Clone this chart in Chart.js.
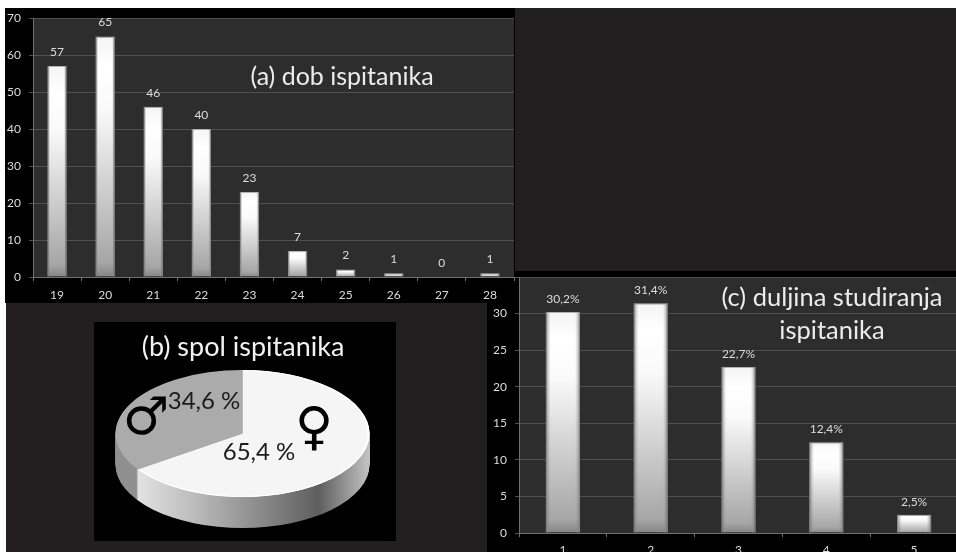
<!DOCTYPE html>
<html>
<head>
<meta charset="utf-8">
<script src="https://cdn.jsdelivr.net/npm/chart.js@4"></script>
<style>
html, body { margin: 0; padding: 0; background: #fff; overflow: hidden; }
#page { position: relative; width: 956px; height: 552px; overflow: hidden; background: #fff; }
#body { position: absolute; left: 6px; top: 8px; width: 950px; height: 544px; background: #231f20; }
canvas { position: absolute; display: block; }
#chartA { left: 5px; top: 8px; z-index: 3; }
#chartB { left: 94px; top: 322px; z-index: 2; }
#chartC { left: 487px; top: 271px; z-index: 1; }
</style>
</head>
<body>
<div id="page">
    <div id="body"></div>
    <canvas id="chartC" width="475" height="295"></canvas>
    <canvas id="chartB" width="302" height="219"></canvas>
    <canvas id="chartA" width="510" height="295"></canvas>
</div>
<script>
// (a) dob ispitanika
const ageLabels = ['19', '20', '21', '22', '23', '24', '25', '26', '27', '28'];
const ageValues = [57, 65, 46, 40, 23, 7, 2, 1, 0, 1];

// (b) spol ispitanika
const sexLabels = ['Ž', 'M'];
const sexValues = [65.4, 34.6];

// (c) duljina studiranja ispitanika
const yearLabels = ['1', '2', '3', '4', '5'];
const yearValues = [30.2, 31.4, 22.7, 12.4, 2.5];
const yearValueLabels = ['30,2%', '31,4%', '22,7%', '12,4%', '2,5%'];

const FONT = 'Lato, sans-serif';
const TEXT = '#dcdcdc';
Chart.defaults.animation = false;
Chart.defaults.font.family = FONT;

// white at the top of the bar, fading to grey towards the axis
function barGradient(context) {
    const chart = context.chart;
    if (!chart.chartArea || !context.parsed) return '#ddd';
    const top = chart.scales.y.getPixelForValue(context.parsed.y);
    const base = chart.scales.y.getPixelForValue(0);
    const g = chart.ctx.createLinearGradient(0, top, 0, Math.max(base, top + 1));
    g.addColorStop(0, '#f4f4f4');
    g.addColorStop(0.12, '#ffffff');
    g.addColorStop(0.3, '#fafafa');
    g.addColorStop(0.94, '#a6a6a6');
    g.addColorStop(1, '#858585');
    return g;
}

const plotFrame = {
    id: 'plotFrame',
    beforeDraw(chart) {
        const { ctx, chartArea: a, width, height } = chart;
        ctx.save();
        ctx.fillStyle = '#000';
        ctx.fillRect(0, 0, width, height);
        ctx.fillStyle = '#2d2d2d';
        ctx.fillRect(a.left, a.top, a.right - a.left, a.bottom - a.top);
        ctx.restore();
    }
};

// darker sides on each bar and the numbers above them
const barDecor = {
    id: 'barDecor',
    afterDatasetsDraw(chart, args, opts) {
        const ctx = chart.ctx;
        ctx.save();
        chart.getDatasetMeta(0).data.forEach((bar, i) => {
            const w = bar.width, left = bar.x - w / 2, right = bar.x + w / 2;
            const h = bar.base - bar.y;
            if (h > 0) {
                const side = Math.max(2, w * 0.14);
                const g = ctx.createLinearGradient(left, 0, right, 0);
                const stop = side / w;
                g.addColorStop(0, 'rgba(110,110,110,0.75)');
                g.addColorStop(stop, 'rgba(150,150,150,0.0)');
                g.addColorStop(1 - stop, 'rgba(150,150,150,0.0)');
                g.addColorStop(1, 'rgba(110,110,110,0.75)');
                ctx.fillStyle = g;
                ctx.fillRect(left, bar.y, w, h);
            }
            ctx.fillStyle = TEXT;
            ctx.font = opts.labelSize + 'px ' + FONT;
            ctx.textAlign = 'center';
            ctx.textBaseline = 'middle';
            ctx.fillText(opts.labels[i], bar.x, bar.y - opts.labelGap);
        });
        ctx.restore();
    }
};

// title text placed inside the chart
const plotTitle = {
    id: 'plotTitle',
    afterDraw(chart, args, opts) {
        const ctx = chart.ctx;
        ctx.save();
        opts.items.forEach(t => {
            ctx.fillStyle = t.color || '#ececec';
            ctx.font = t.size + 'px ' + (t.family || FONT);
            ctx.textAlign = 'center';
            ctx.textBaseline = 'middle';
            ctx.fillText(t.text, t.x, t.y);
        });
        ctx.restore();
    }
};

function barChart(id, labels, values, cfg) {
    return new Chart(document.getElementById(id), {
        type: 'bar',
        data: {
            labels: labels,
            datasets: [{
                data: values,
                backgroundColor: barGradient,
                borderColor: '#b4b4b4',
                borderWidth: 1,
                barPercentage: cfg.barPercentage,
                categoryPercentage: 1
            }]
        },
        options: {
            responsive: false,
            layout: { padding: cfg.padding },
            plugins: {
                legend: { display: false },
                tooltip: { enabled: false },
                barDecor: { labels: cfg.valueLabels, labelSize: cfg.labelSize, labelGap: cfg.labelGap },
                plotTitle: { items: cfg.titles }
            },
            scales: {
                x: {
                    afterFit: s => { s.height = cfg.xHeight; s.paddingLeft = 0; s.paddingRight = 0; },
                    grid: { drawOnChartArea: false, color: '#707070', tickLength: 4, offset: true },
                    border: { color: '#707070' },
                    ticks: { color: TEXT, font: { size: 12 }, padding: cfg.xPad, maxRotation: 0 }
                },
                y: {
                    min: 0,
                    max: cfg.max,
                    afterFit: s => { s.width = cfg.yWidth; s.paddingTop = 0; s.paddingBottom = 0; },
                    grid: { color: '#505050', tickLength: 4 },
                    border: { color: '#707070' },
                    ticks: {
                        color: TEXT,
                        font: { size: 12 },
                        padding: 8,
                        stepSize: cfg.step,
                        callback: v => (v > cfg.lastTick ? '' : v)
                    }
                }
            }
        },
        plugins: [plotFrame, barDecor, plotTitle]
    });
}

barChart('chartA', ageLabels, ageValues, {
    max: 70, step: 10, lastTick: 70,
    barPercentage: 0.4,
    padding: { top: 10, right: 1, left: 0, bottom: 0 },
    yWidth: 28, xHeight: 26, xPad: 7,
    valueLabels: ageValues.map(String),
    labelSize: 12, labelGap: 14,
    titles: [{ text: '(a) dob ispitanika', x: 337, y: 69, size: 25 }]
});

barChart('chartC', yearLabels, yearValues, {
    max: 35, step: 5, lastTick: 30,
    barPercentage: 0.39,
    padding: { top: 6, right: 4, left: 0, bottom: 0 },
    yWidth: 32, xHeight: 33, xPad: 6,
    valueLabels: yearValueLabels,
    labelSize: 12, labelGap: 13,
    titles: [
        { text: '(c) duljina studiranja', x: 345, y: 27, size: 25.5 },
        { text: 'ispitanika', x: 345, y: 60, size: 25.5 }
    ]
});

// flatten the pie and give it a thick side wall
const TILT = 0.5, DEPTH = 31;
const pieTilt = {
    id: 'pieTilt',
    beforeDraw(chart) {
        chart.ctx.save();
        chart.ctx.fillStyle = '#000';
        chart.ctx.fillRect(0, 0, chart.width, chart.height);
        chart.ctx.restore();
    },
    beforeDatasetsDraw(chart) {
        const ctx = chart.ctx;
        const arc = chart.getDatasetMeta(0).data[0];
        const { x, y, outerRadius: r } = arc;
        const g = ctx.createLinearGradient(x - r, 0, x + r, 0);
        g.addColorStop(0, '#8f8f8f');
        g.addColorStop(0.082, '#8f8f8f');
        g.addColorStop(0.09, '#e2e2e2');
        g.addColorStop(0.3, '#bdbdbd');
        g.addColorStop(0.8, '#5e5e5e');
        g.addColorStop(1, '#c4c4c4');
        ctx.save();
        ctx.fillStyle = g;
        for (let d = DEPTH; d > 0; d--) {
            ctx.beginPath();
            ctx.ellipse(x, y + d, r, r * TILT, 0, 0, Math.PI * 2);
            ctx.fill();
        }
        ctx.restore();
        ctx.save();
        ctx.translate(0, y);
        ctx.scale(1, TILT);
        ctx.translate(0, -y);
    },
    afterDatasetsDraw(chart) {
        const ctx = chart.ctx;
        // bright rim along the front of the large slice
        const arc = chart.getDatasetMeta(0).data[0];
        ctx.strokeStyle = '#ffffff';
        ctx.lineWidth = 2;
        ctx.beginPath();
        ctx.arc(arc.x, arc.y, arc.outerRadius - 1, arc.startAngle, arc.endAngle);
        ctx.stroke();
        ctx.restore();
    }
};

new Chart(document.getElementById('chartB'), {
    type: 'pie',
    data: {
        labels: sexLabels,
        datasets: [{
            data: sexValues,
            backgroundColor: ['#f5f5f5', '#ababab'],
            borderWidth: 0,
            radius: 127,
            clip: false
        }]
    },
    options: {
        responsive: false,
        layout: { padding: { top: 4, right: 5, left: 0, bottom: 0 } },
        plugins: {
            legend: { display: false },
            tooltip: { enabled: false },
            plotTitle: {
                items: [
                    { text: '(b) spol ispitanika', x: 149, y: 25, size: 27, color: '#f2f2f2' },
                    { text: '34,6 %', x: 110, y: 79, size: 24, color: '#1c1c1c' },
                    { text: '65,4 %', x: 165, y: 130, size: 24, color: '#1c1c1c' },
                    { text: '\u2642', x: 52, y: 98, size: 52, color: '#000', family: '"DejaVu Sans"' },
                    { text: '\u2640', x: 220, y: 108, size: 52, color: '#000', family: '"DejaVu Sans"' }
                ]
            }
        }
    },
    plugins: [pieTilt, plotTitle]
});
</script>
</body>
</html>
